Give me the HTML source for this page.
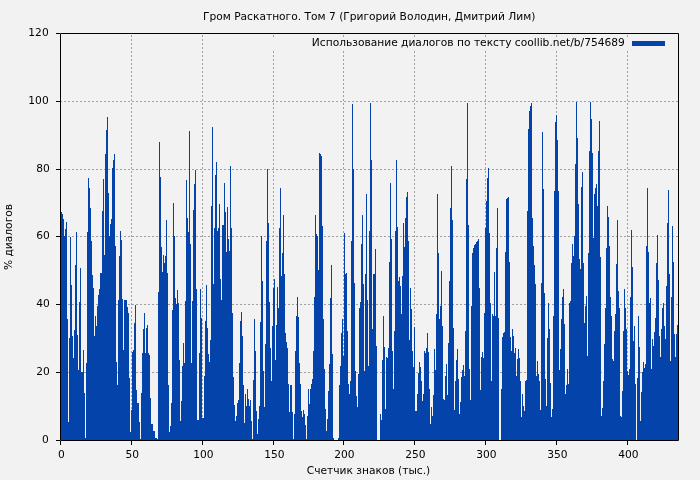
<!DOCTYPE html>
<html><head><meta charset="utf-8"><style>
html,body{margin:0;padding:0;background:#f2f2f2;overflow:hidden}
svg{display:block;will-change:transform}
text{font-family:"DejaVu Sans", "Liberation Sans", sans-serif;font-size:10.67px;fill:#000}
</style></head><body>
<svg width="700" height="480" viewBox="0 0 700 480">
<rect x="0" y="0" width="700" height="480" fill="#f2f2f2"/>
<path d="M60 372.5H678 M60 304.5H678 M60 236.5H678 M60 169.5H678 M60 101.5H678 M131.5 441V34 M202.5 441V34 M273.5 441V34 M343.5 441V34 M414.5 441V34 M485.5 441V34 M556.5 441V34 M627.5 441V34" stroke="#a0a0a0" stroke-width="1" stroke-dasharray="2 2" fill="none"/>
<rect x="210" y="38" width="468" height="13" fill="#f2f2f2"/>
<path d="M61 212.00H62V440H61ZM62 214.00H63V440H62ZM63 218.50H64V440H63ZM64 235.50H65V440H64ZM65 229.00H66V440H65ZM66 222.00H67V440H66ZM67 319.00H68V440H67ZM68 422.00H69V440H68ZM69 338.00H70V440H69ZM70 237.00H71V440H70ZM71 285.00H72V440H71ZM72 336.00H73V440H72ZM73 358.00H74V440H73ZM74 330.00H75V440H74ZM75 265.00H76V440H75ZM76 232.00H77V440H76ZM77 335.00H78V440H77ZM78 370.00H79V440H78ZM79 302.00H80V440H79ZM80 268.00H81V440H80ZM81 372.00H82V440H81ZM82 372.00H83V440H82ZM83 350.00H84V440H83ZM84 393.00H85V440H84ZM85 438.00H86V440H85ZM86 363.00H87V440H86ZM87 232.00H88V440H87ZM88 178.00H89V440H88ZM89 188.00H90V440H89ZM90 208.00H91V440H90ZM91 240.50H92V440H91ZM92 275.00H93V440H92ZM93 288.00H94V440H93ZM94 336.00H95V440H94ZM95 316.00H96V440H95ZM96 326.00H97V440H96ZM97 306.00H98V440H97ZM98 295.00H99V440H98ZM99 289.00H100V440H99ZM100 273.00H101V440H100ZM101 273.00H102V440H101ZM102 211.00H103V440H102ZM103 179.00H104V440H103ZM104 254.50H105V440H104ZM105 154.00H106V440H105ZM106 130.00H107V440H106ZM107 117.00H108V440H107ZM108 193.00H109V440H108ZM109 235.50H110V440H109ZM110 224.00H111V440H110ZM111 218.50H112V440H111ZM112 168.00H113V440H112ZM113 160.00H114V440H113ZM114 154.00H115V440H114ZM115 245.50H116V440H115ZM116 362.00H117V440H116ZM117 385.00H118V440H117ZM118 300.00H119V440H118ZM119 255.50H120V440H119ZM120 231.00H121V440H120ZM121 240.00H122V440H121ZM122 299.00H123V440H122ZM123 350.00H124V440H123ZM124 300.00H125V440H124ZM125 300.00H126V440H125ZM126 300.00H127V440H126ZM127 307.00H128V440H127ZM128 313.00H129V440H128ZM129 378.00H130V440H129ZM130 432.00H131V440H130ZM131 410.00H132V440H131ZM132 352.00H133V440H132ZM133 350.00H134V440H133ZM134 323.00H135V440H134ZM135 305.00H136V440H135ZM136 390.00H137V440H136ZM137 403.00H138V440H137ZM138 403.00H139V440H138ZM139 422.00H140V440H139ZM140 439.00H141V440H140ZM141 393.00H142V440H141ZM142 353.00H143V440H142ZM143 329.00H144V440H143ZM144 313.00H145V440H144ZM145 353.00H146V440H145ZM146 328.00H147V440H146ZM147 325.00H148V440H147ZM148 353.00H149V440H148ZM149 355.00H150V440H149ZM150 398.00H151V440H150ZM151 424.00H152V440H151ZM152 424.00H153V440H152ZM153 431.00H154V440H153ZM154 431.00H155V440H154ZM155 438.00H156V440H155ZM156 438.00H157V440H156ZM157 439.00H158V440H157ZM158 292.00H159V440H158ZM159 142.00H160V440H159ZM160 177.00H161V440H160ZM161 247.00H162V440H161ZM162 272.00H163V440H162ZM163 255.00H164V440H163ZM164 263.00H165V440H164ZM165 255.50H166V440H165ZM166 220.00H167V440H166ZM167 273.00H168V440H167ZM168 385.00H169V440H168ZM169 432.00H170V440H169ZM170 426.00H171V440H170ZM171 403.00H172V440H171ZM172 310.00H173V440H172ZM173 203.00H174V440H173ZM174 235.50H175V440H174ZM175 298.00H176V440H175ZM176 304.00H177V440H176ZM177 290.00H178V440H177ZM178 303.00H179V440H178ZM179 360.00H180V440H179ZM180 421.00H181V440H180ZM181 401.00H182V440H181ZM182 366.00H183V440H182ZM183 343.00H184V440H183ZM184 363.00H185V440H184ZM185 301.00H186V440H185ZM186 180.00H187V440H186ZM187 218.00H188V440H187ZM188 232.00H189V440H188ZM189 131.00H190V440H189ZM190 244.00H191V440H190ZM191 363.00H192V440H191ZM192 301.00H193V440H192ZM193 210.00H194V440H193ZM194 184.00H195V440H194ZM195 170.00H196V440H195ZM196 288.50H197V440H196ZM197 420.00H198V440H197ZM198 420.00H199V440H198ZM199 353.00H200V440H199ZM200 289.00H201V440H200ZM201 318.00H202V440H201ZM202 418.00H203V440H202ZM203 418.00H204V440H203ZM204 376.00H205V440H204ZM205 321.00H206V440H205ZM206 285.00H207V440H206ZM207 328.00H208V440H207ZM208 354.00H209V440H208ZM209 362.00H210V440H209ZM210 340.00H211V440H210ZM211 206.00H212V440H211ZM212 127.00H213V440H212ZM213 284.00H214V440H213ZM214 228.00H215V440H214ZM215 175.00H216V440H215ZM216 162.00H217V440H216ZM217 230.50H218V440H217ZM218 228.00H219V440H218ZM219 204.00H220V440H219ZM220 279.00H221V440H220ZM221 300.00H222V440H221ZM222 225.00H223V440H222ZM223 225.00H224V440H223ZM224 183.00H225V440H224ZM225 212.00H226V440H225ZM226 252.00H227V440H226ZM227 207.00H228V440H227ZM228 239.00H229V440H228ZM229 251.00H230V440H229ZM230 166.00H231V440H230ZM231 228.00H232V440H231ZM232 313.00H233V440H232ZM233 377.00H234V440H233ZM234 405.00H235V440H234ZM235 421.00H236V440H235ZM236 416.00H237V440H236ZM237 403.00H238V440H237ZM238 400.00H239V440H238ZM239 363.00H240V440H239ZM240 320.50H241V440H240ZM241 312.00H242V440H241ZM242 335.50H243V440H242ZM243 385.00H244V440H243ZM244 423.00H245V440H244ZM245 393.50H246V440H245ZM246 406.00H247V440H246ZM247 388.50H248V440H247ZM248 398.50H249V440H248ZM249 406.00H250V440H249ZM250 400.00H251V440H250ZM251 421.00H252V440H251ZM252 438.50H253V440H252ZM253 380.00H254V440H253ZM254 319.00H255V440H254ZM255 351.00H256V440H255ZM256 411.00H257V440H256ZM257 433.50H258V440H257ZM258 418.50H259V440H258ZM259 406.00H260V440H259ZM260 322.00H261V440H260ZM261 236.00H262V440H261ZM262 280.50H263V440H262ZM263 371.00H264V440H263ZM264 407.00H265V440H264ZM265 344.00H266V440H265ZM266 241.00H267V440H266ZM267 169.00H268V440H267ZM268 223.00H269V440H268ZM269 302.00H270V440H269ZM270 348.00H271V440H270ZM271 381.00H272V440H271ZM272 325.50H273V440H272ZM273 288.00H274V440H273ZM274 279.00H275V440H274ZM275 360.00H276V440H275ZM276 325.00H277V440H276ZM277 287.00H278V440H277ZM278 308.00H279V440H278ZM279 228.00H280V440H279ZM280 188.00H281V440H280ZM281 275.50H282V440H281ZM282 253.00H283V440H282ZM283 215.00H284V440H283ZM284 274.00H285V440H284ZM285 333.00H286V440H285ZM286 342.00H287V440H286ZM287 348.00H288V440H287ZM288 383.50H289V440H288ZM289 412.00H290V440H289ZM290 385.00H291V440H290ZM291 385.00H292V440H291ZM292 412.00H293V440H292ZM293 438.50H294V440H293ZM294 413.50H295V440H294ZM295 350.50H296V440H295ZM296 315.50H297V440H296ZM297 297.00H298V440H297ZM298 317.00H299V440H298ZM299 363.00H300V440H299ZM300 383.50H301V440H300ZM301 411.00H302V440H301ZM302 417.00H303V440H302ZM303 410.00H304V440H303ZM304 413.50H305V440H304ZM305 425.00H306V440H305ZM306 438.50H307V440H306ZM307 416.00H308V440H307ZM308 388.50H309V440H308ZM309 403.50H310V440H309ZM310 388.50H311V440H310ZM311 383.50H312V440H311ZM312 378.50H313V440H312ZM313 351.00H314V440H313ZM314 297.00H315V440H314ZM315 215.00H316V440H315ZM316 233.50H317V440H316ZM317 235.50H318V440H317ZM318 270.00H319V440H318ZM319 153.00H320V440H319ZM320 154.00H321V440H320ZM321 156.00H322V440H321ZM322 225.50H323V440H322ZM323 319.00H324V440H323ZM324 368.50H325V440H324ZM325 408.50H326V440H325ZM326 431.00H327V440H326ZM327 418.50H328V440H327ZM328 391.00H329V440H328ZM329 363.50H330V440H329ZM330 298.00H331V440H330ZM331 265.00H332V440H331ZM332 353.50H333V440H332ZM333 438.00H334V440H333ZM338 438.00H339V440H338ZM339 385.00H340V440H339ZM340 366.00H341V440H340ZM341 333.00H342V440H341ZM342 319.00H343V440H342ZM343 356.00H344V440H343ZM344 233.00H345V440H344ZM345 274.00H346V440H345ZM346 273.00H347V440H346ZM347 330.50H348V440H347ZM348 383.50H349V440H348ZM349 393.50H350V440H349ZM350 381.00H351V440H350ZM351 240.50H352V440H351ZM352 104.00H353V440H352ZM353 169.00H354V440H353ZM354 283.00H355V440H354ZM355 371.00H356V440H355ZM356 396.00H357V440H356ZM357 407.00H358V440H357ZM358 373.50H359V440H358ZM359 308.00H360V440H359ZM360 302.00H361V440H360ZM361 243.50H362V440H361ZM362 215.00H363V440H362ZM363 284.00H364V440H363ZM364 371.00H365V440H364ZM365 274.00H366V440H365ZM366 194.00H367V440H366ZM367 300.00H368V440H367ZM368 366.00H369V440H368ZM369 231.00H370V440H369ZM370 103.00H371V440H370ZM371 160.00H372V440H371ZM372 329.00H373V440H372ZM373 274.00H374V440H373ZM374 274.00H375V440H374ZM375 249.00H376V440H375ZM376 346.00H377V440H376ZM380 413.50H381V440H380ZM381 420.00H382V440H381ZM382 360.00H383V440H382ZM383 315.50H384V440H383ZM384 347.00H385V440H384ZM385 408.50H386V440H385ZM386 357.00H387V440H386ZM387 358.00H388V440H387ZM388 348.00H389V440H388ZM389 262.00H390V440H389ZM390 183.00H391V440H390ZM391 239.00H392V440H391ZM392 351.00H393V440H392ZM393 388.50H394V440H393ZM394 330.50H395V440H394ZM395 231.00H396V440H395ZM396 160.00H397V440H396ZM397 227.00H398V440H397ZM398 280.50H399V440H398ZM399 277.00H400V440H399ZM400 285.50H401V440H400ZM401 314.00H402V440H401ZM402 275.50H403V440H402ZM403 223.00H404V440H403ZM404 247.00H405V440H404ZM405 218.00H406V440H405ZM406 197.00H407V440H406ZM407 192.00H408V440H407ZM408 240.50H409V440H408ZM409 340.00H410V440H409ZM410 288.00H411V440H410ZM411 309.00H412V440H411ZM412 351.00H413V440H412ZM413 367.00H414V440H413ZM414 327.00H415V440H414ZM415 411.00H416V440H415ZM416 411.00H417V440H416ZM417 393.50H418V440H417ZM418 373.00H419V440H418ZM419 362.00H420V440H419ZM420 367.00H421V440H420ZM421 381.00H422V440H421ZM422 401.00H423V440H422ZM423 393.50H424V440H423ZM424 350.50H425V440H424ZM425 353.00H426V440H425ZM426 348.00H427V440H426ZM427 333.00H428V440H427ZM428 352.00H429V440H428ZM429 388.50H430V440H429ZM430 423.50H431V440H430ZM431 407.00H432V440H431ZM432 416.00H433V440H432ZM433 395.00H434V440H433ZM434 349.00H435V440H434ZM435 370.00H436V440H435ZM436 314.00H437V440H436ZM437 194.00H438V440H437ZM438 253.00H439V440H438ZM439 319.00H440V440H439ZM440 305.50H441V440H440ZM441 270.50H442V440H441ZM442 325.50H443V440H442ZM443 398.50H444V440H443ZM444 400.00H445V440H444ZM445 376.00H446V440H445ZM446 363.50H447V440H446ZM447 395.00H448V440H447ZM448 343.00H449V440H448ZM449 280.50H450V440H449ZM450 208.00H451V440H450ZM451 166.00H452V440H451ZM452 220.00H453V440H452ZM453 328.00H454V440H453ZM454 410.00H455V440H454ZM455 381.00H456V440H455ZM456 360.00H457V440H456ZM457 349.00H458V440H457ZM458 378.50H459V440H458ZM459 413.50H460V440H459ZM460 402.00H461V440H460ZM461 377.00H462V440H461ZM462 370.00H463V440H462ZM463 365.00H464V440H463ZM464 376.00H465V440H464ZM465 330.50H466V440H465ZM466 179.00H467V440H466ZM467 103.00H468V440H467ZM468 225.00H469V440H468ZM469 369.00H470V440H469ZM470 400.00H471V440H470ZM471 306.00H472V440H471ZM472 252.50H473V440H472ZM473 248.00H474V440H473ZM474 245.00H475V440H474ZM475 243.50H476V440H475ZM476 242.00H477V440H476ZM477 240.50H478V440H477ZM478 239.00H479V440H478ZM479 288.00H480V440H479ZM480 390.00H481V440H480ZM481 356.75H482V440H481ZM482 351.75H483V440H482ZM483 358.00H484V440H483ZM484 313.00H485V440H484ZM485 228.00H486V440H485ZM486 200.50H487V440H486ZM487 178.00H488V440H487ZM488 167.50H489V440H488ZM489 232.50H490V440H489ZM490 303.00H491V440H490ZM491 381.00H492V440H491ZM492 314.00H493V440H492ZM493 315.50H494V440H493ZM494 272.00H495V440H494ZM495 316.00H496V440H495ZM496 247.50H497V440H496ZM497 208.00H498V440H497ZM498 318.00H499V440H498ZM501 388.50H502V440H501ZM502 337.00H503V440H502ZM503 333.00H504V440H503ZM504 332.00H505V440H504ZM505 252.00H506V440H505ZM506 199.00H507V440H506ZM507 198.00H508V440H507ZM508 197.00H509V440H508ZM509 262.00H510V440H509ZM510 337.00H511V440H510ZM511 350.50H512V440H511ZM512 329.00H513V440H512ZM513 335.50H514V440H513ZM514 353.00H515V440H514ZM515 348.00H516V440H515ZM516 376.00H517V440H516ZM517 359.00H518V440H517ZM518 349.00H519V440H518ZM519 358.00H520V440H519ZM520 381.00H521V440H520ZM521 417.00H522V440H521ZM522 393.50H523V440H522ZM523 406.00H524V440H523ZM524 411.00H525V440H524ZM525 380.50H526V440H525ZM526 380.00H527V440H526ZM527 211.00H528V440H527ZM528 129.00H529V440H528ZM529 111.00H530V440H529ZM530 105.50H531V440H530ZM531 103.00H532V440H531ZM532 217.50H533V440H532ZM533 246.00H534V440H533ZM534 265.00H535V440H534ZM535 284.00H536V440H535ZM536 375.50H537V440H536ZM537 360.50H538V440H537ZM538 373.50H539V440H538ZM539 381.00H540V440H539ZM540 410.00H541V440H540ZM541 283.00H542V440H541ZM542 132.00H543V440H542ZM543 189.00H544V440H543ZM544 293.00H545V440H544ZM545 379.00H546V440H545ZM546 406.00H547V440H546ZM547 338.00H548V440H547ZM548 303.00H549V440H548ZM549 329.00H550V440H549ZM550 383.00H551V440H550ZM551 417.00H552V440H551ZM552 408.50H553V440H552ZM553 315.50H554V440H553ZM554 191.00H555V440H554ZM555 122.00H556V440H555ZM556 115.00H557V440H556ZM557 140.00H558V440H557ZM558 190.50H559V440H558ZM559 370.00H560V440H559ZM560 349.00H561V440H560ZM561 318.50H562V440H561ZM562 297.00H563V440H562ZM563 289.00H564V440H563ZM564 324.00H565V440H564ZM565 393.50H566V440H565ZM566 385.00H567V440H566ZM567 368.50H568V440H567ZM568 383.50H569V440H568ZM569 303.00H570V440H569ZM570 301.00H571V440H570ZM571 263.00H572V440H571ZM572 244.00H573V440H572ZM573 255.50H574V440H573ZM574 235.50H575V440H574ZM575 164.00H576V440H575ZM576 101.50H577V440H576ZM577 137.50H578V440H577ZM578 204.00H579V440H578ZM579 259.00H580V440H579ZM580 269.00H581V440H580ZM581 187.00H582V440H581ZM582 172.00H583V440H582ZM583 263.00H584V440H583ZM584 323.00H585V440H584ZM585 305.50H586V440H585ZM586 295.50H587V440H586ZM587 356.00H588V440H587ZM588 253.00H589V440H588ZM589 150.50H590V440H589ZM590 101.60H591V440H590ZM591 119.00H592V440H591ZM592 153.00H593V440H592ZM593 238.00H594V440H593ZM594 194.00H595V440H594ZM595 188.00H596V440H595ZM596 184.00H597V440H596ZM597 206.00H598V440H597ZM598 150.50H599V440H598ZM599 121.00H600V440H599ZM600 256.75H601V440H600ZM601 416.00H602V440H601ZM602 408.00H603V440H602ZM603 381.00H604V440H603ZM604 343.50H605V440H604ZM605 308.00H606V440H605ZM606 248.00H607V440H606ZM607 206.00H608V440H607ZM608 217.00H609V440H608ZM609 245.50H610V440H609ZM610 296.75H611V440H610ZM611 315.50H612V440H611ZM612 358.50H613V440H612ZM613 361.00H614V440H613ZM614 331.00H615V440H614ZM615 314.00H616V440H615ZM616 264.00H617V440H616ZM617 220.00H618V440H617ZM618 290.50H619V440H618ZM619 308.00H620V440H619ZM620 416.00H621V440H620ZM621 417.00H622V440H621ZM622 391.00H623V440H622ZM623 331.00H624V440H623ZM624 289.00H625V440H624ZM625 308.00H626V440H625ZM626 328.50H627V440H626ZM627 371.00H628V440H627ZM628 375.00H629V440H628ZM629 368.50H630V440H629ZM630 296.75H631V440H630ZM631 229.50H632V440H631ZM632 266.75H633V440H632ZM633 341.00H634V440H633ZM634 326.00H635V440H634ZM635 384.00H636V440H635ZM637 378.00H638V440H637ZM638 316.00H639V440H638ZM639 347.00H640V440H639ZM640 421.00H641V440H640ZM641 392.00H642V440H641ZM642 372.00H643V440H642ZM643 362.00H644V440H643ZM644 368.00H645V440H644ZM645 364.00H646V440H645ZM646 245.50H647V440H646ZM647 188.00H648V440H647ZM648 251.75H649V440H648ZM649 303.00H650V440H649ZM650 298.00H651V440H650ZM651 368.50H652V440H651ZM652 338.50H653V440H652ZM653 346.00H654V440H653ZM654 332.00H655V440H654ZM655 318.00H656V440H655ZM656 263.00H657V440H656ZM657 235.00H658V440H657ZM658 280.00H659V440H658ZM659 336.00H660V440H659ZM660 357.00H661V440H660ZM661 328.50H662V440H661ZM662 308.00H663V440H662ZM663 303.00H664V440H663ZM664 326.00H665V440H664ZM665 338.50H666V440H665ZM666 286.00H667V440H666ZM667 223.00H668V440H667ZM668 190.00H669V440H668ZM669 274.00H670V440H669ZM670 361.00H671V440H670ZM671 296.75H672V440H671ZM672 226.00H673V440H672ZM673 261.75H674V440H673ZM674 333.50H675V440H674ZM675 357.00H676V440H675ZM676 333.50H677V440H676ZM677 325.00H678V440H677Z" fill="#0443a9" shape-rendering="crispEdges"/>
<path d="M60.5 33.5H678.5V440.5H60.5Z" stroke="#000" stroke-width="1" fill="none"/>
<path d="M56 440.5H60 M56 372.5H60 M56 304.5H60 M56 236.5H60 M56 169.5H60 M56 101.5H60 M56 33.5H60 M60.5 441V445 M131.5 441V445 M202.5 441V445 M273.5 441V445 M343.5 441V445 M414.5 441V445 M485.5 441V445 M556.5 441V445 M627.5 441V445" stroke="#000" stroke-width="1" fill="none"/>
<text x="48.8" y="442.75" text-anchor="end">0</text>
<text x="49.8" y="374.75" text-anchor="end">20</text>
<text x="49.8" y="306.75" text-anchor="end">40</text>
<text x="49.8" y="238.75" text-anchor="end">60</text>
<text x="49.8" y="171.75" text-anchor="end">80</text>
<text x="48.7" y="103.75" text-anchor="end">100</text>
<text x="48.7" y="35.75" text-anchor="end">120</text>
<text x="61.3" y="458.3" text-anchor="middle">0</text>
<text x="132.3" y="458.3" text-anchor="middle">50</text>
<text x="203.3" y="458.3" text-anchor="middle">100</text>
<text x="274.3" y="458.3" text-anchor="middle">150</text>
<text x="344.3" y="458.3" text-anchor="middle">200</text>
<text x="415.3" y="458.3" text-anchor="middle">250</text>
<text x="486.3" y="458.3" text-anchor="middle">300</text>
<text x="557.3" y="458.3" text-anchor="middle">350</text>
<text x="628.3" y="458.3" text-anchor="middle">400</text>
<text x="369.2" y="19.6" text-anchor="middle">Гром Раскатного. Том 7 (Григорий Володин, Дмитрий Лим)</text>
<text x="624.9" y="45.7" text-anchor="end">Использование диалогов по тексту coollib.net/b/754689</text>
<rect x="632" y="41" width="33" height="5" fill="#0443a9"/>
<text x="368.5" y="474.4" text-anchor="middle">Счетчик знаков (тыс.)</text>
<text transform="translate(12.2 237) rotate(-90)" text-anchor="middle">% диалогов</text>
</svg>
</body></html>
